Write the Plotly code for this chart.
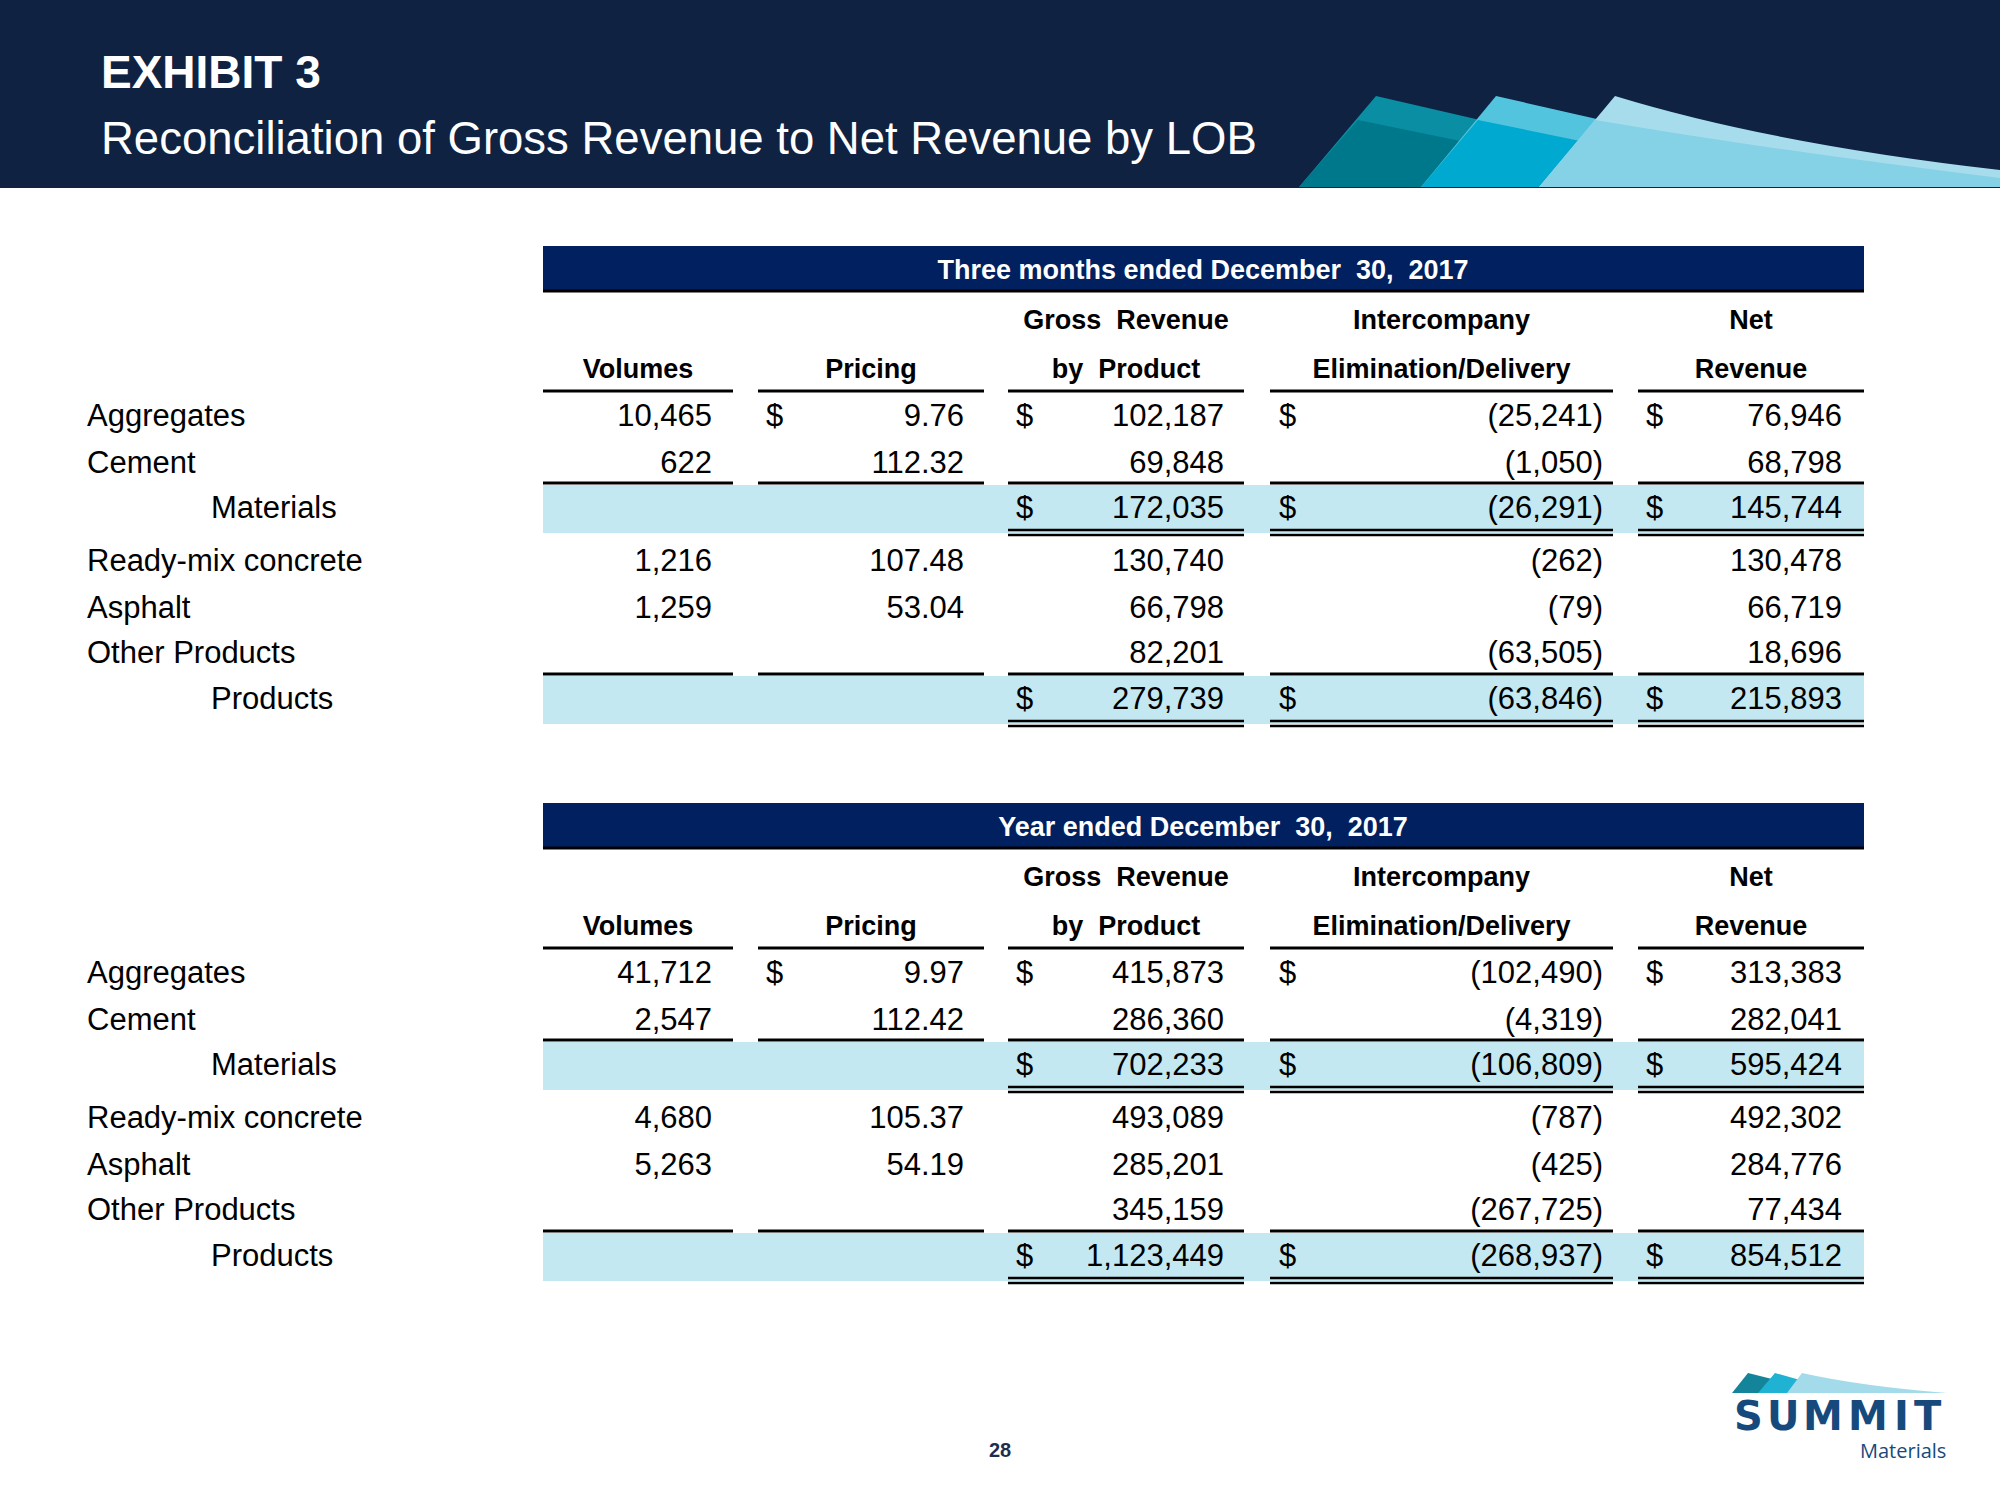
import plotly.graph_objects as go

# ---------------- data ----------------
row_labels = ["Aggregates", "Cement", "Materials", "Ready-mix concrete",
              "Asphalt", "Other Products", "Products"]
subtotal_rows = [False, False, True, False, False, False, True]
dollar_rows = [True, False, True, False, False, False, True]
col_headers_top = ["", "", "Gross\u00a0 Revenue", "Intercompany", "Net"]
col_headers_bot = ["Volumes", "Pricing", "by\u00a0 Product", "Elimination/Delivery", "Revenue"]
period_titles = ["Three months ended December\u00a0 30,\u00a0 2017",
                 "Year ended December\u00a0 30,\u00a0 2017"]

q_volumes = [10465, 622, None, 1216, 1259, None, None]
q_pricing = [9.76, 112.32, None, 107.48, 53.04, None, None]
q_gross = [102187, 69848, 172035, 130740, 66798, 82201, 279739]
q_interco = [-25241, -1050, -26291, -262, -79, -63505, -63846]
q_net = [76946, 68798, 145744, 130478, 66719, 18696, 215893]

y_volumes = [41712, 2547, None, 4680, 5263, None, None]
y_pricing = [9.97, 112.42, None, 105.37, 54.19, None, None]
y_gross = [415873, 286360, 702233, 493089, 285201, 345159, 1123449]
y_interco = [-102490, -4319, -106809, -787, -425, -267725, -268937]
y_net = [313383, 282041, 595424, 492302, 284776, 77434, 854512]

title_main = "EXHIBIT 3"
title_sub = "Reconciliation of Gross Revenue to Net Revenue by LOB"
page_number = "28"
logo_word = "SUMMIT"
logo_sub = "Materials"

tables = [
    [q_volumes, q_pricing, q_gross, q_interco, q_net],
    [y_volumes, y_pricing, y_gross, y_interco, y_net],
]

# ---------------- styling / geometry ----------------
BODY = "Liberation Sans, Arial, sans-serif"
ARIAL = "Liberation Sans, Arial, sans-serif"
NAVY_BAND = "#0f2242"
BAR_BLUE = "#002060"
LIGHT_BAND = "#c4e8f1"

seg = [(543, 733), (758, 984), (1008, 1244), (1270, 1613), (1638, 1864)]
val_right = [712, 964, 1224, 1603, 1842]
dollar_left = [None, 766, 1016, 1279, 1646]
row_base = [415, 462, 507, 560, 607, 652, 698]
table_offsets = [0, 557]
TXT_DY = 3  # small vertical nudge of text relative to the row centre


def fmt_num(v):
    if v is None:
        return ""
    if v < 0:
        return f"({abs(v):,})"
    return f"{v:,}"


def fmt_price(v):
    return "" if v is None else f"{v:.2f}"


fig = go.Figure()
shapes = []
annotations = []

# header band
shapes.append(dict(type="rect", x0=0, x1=2000, y0=0, y1=188, fillcolor=NAVY_BAND,
                   line=dict(width=0), layer="below"))
# decoration
deco = [
    ("#0a8ea3", "M1299,187 L1376,96 L1480,120 L1480,187 Z"),
    ("#00788b", "M1299,187 L1358,120 L1470,143 L1470,187 Z"),
    ("#52c4de", "M1421,187 L1496,96 L1610,122 L1610,187 Z"),
    ("#00a9cf", "M1421,187 L1478,120 L1590,143 L1590,187 Z"),
    ("#a7dced", "M1539,187 L1615,96 Q1772,144 2000,170 L2000,187 Z"),
    ("#85d1e5", "M1539,187 L1595,120 Q1778,151 2000,178 L2000,187 Z"),
]
for col, p in deco:
    shapes.append(dict(type="path", path=p, fillcolor=col, line=dict(width=0), layer="below"))

annotations.append(dict(x=99, y=72, text=f"<b>{title_main}</b>", showarrow=False,
                        xanchor="left", yanchor="middle",
                        font=dict(family=ARIAL, size=46, color="white")))
annotations.append(dict(x=99, y=138, text=title_sub, showarrow=False,
                        xanchor="left", yanchor="middle",
                        font=dict(family=ARIAL, size=45.5, color="white")))

for t, cols in enumerate(tables):
    off = table_offsets[t]
    rows_y = [r + off for r in row_base]
    text_y = [y + TXT_DY for y in rows_y]
    # title bar
    shapes.append(dict(type="rect", x0=543, x1=1864, y0=246 + off, y1=292 + off,
                       fillcolor=BAR_BLUE, line=dict(width=0), layer="below"))
    shapes.append(dict(type="line", x0=543, x1=1864, y0=291 + off, y1=291 + off,
                       line=dict(color="black", width=3)))
    # subtotal bands and lines
    for i, sub in enumerate(subtotal_rows):
        if not sub:
            continue
        y = rows_y[i]
        shapes.append(dict(type="rect", x0=543, x1=1864, y0=y - 22, y1=y + 26,
                           fillcolor=LIGHT_BAND, line=dict(width=0), layer="below"))
        for c, (a, b) in enumerate(seg):
            shapes.append(dict(type="line", x0=a, x1=b, y0=y - 24, y1=y - 24,
                               line=dict(color="black", width=3)))
            if c >= 2:
                for dy in (23, 28):
                    shapes.append(dict(type="line", x0=a, x1=b, y0=y + dy, y1=y + dy,
                                       line=dict(color="black", width=2.5)))
    # header underline
    for a, b in seg:
        shapes.append(dict(type="line", x0=a, x1=b, y0=391 + off, y1=391 + off,
                           line=dict(color="black", width=3)))

    # title text
    fig.add_trace(go.Scatter(x=[1203], y=[272 + off], mode="text",
                             text=[f"<b>{period_titles[t]}</b>"], textposition="middle center",
                             textfont=dict(family=BODY, size=27, color="white"),
                             hoverinfo="skip", showlegend=False))
    # column headers
    centers = [(a + b) / 2 for a, b in seg]
    fig.add_trace(go.Scatter(x=centers + centers,
                             y=[322 + off] * 5 + [371 + off] * 5, mode="text",
                             text=[f"<b>{h}</b>" for h in col_headers_top + col_headers_bot],
                             textposition="middle center",
                             textfont=dict(family=BODY, size=27, color="black"),
                             hoverinfo="skip", showlegend=False))
    # row labels
    fig.add_trace(go.Scatter(x=[211 if s else 87 for s in subtotal_rows], y=text_y,
                             mode="text", text=row_labels, textposition="middle right",
                             textfont=dict(family=BODY, size=31, color="black"),
                             hoverinfo="skip", showlegend=False))
    # values
    for c, vals in enumerate(cols):
        txt = [fmt_price(v) for v in vals] if c == 1 else [fmt_num(v) for v in vals]
        fig.add_trace(go.Scatter(x=[val_right[c]] * len(vals), y=text_y, mode="text",
                                 text=txt, textposition="middle left",
                                 textfont=dict(family=BODY, size=31, color="black"),
                                 hoverinfo="skip", showlegend=False))
        if dollar_left[c] is not None:
            dy = [text_y[i] for i, v in enumerate(vals) if v is not None and dollar_rows[i]]
            fig.add_trace(go.Scatter(x=[dollar_left[c]] * len(dy), y=dy, mode="text",
                                     text=["$"] * len(dy), textposition="middle right",
                                     textfont=dict(family=BODY, size=31, color="black"),
                                     hoverinfo="skip", showlegend=False))

# page number
annotations.append(dict(x=1000, y=1450, text=f"<b>{page_number}</b>", showarrow=False,
                        xanchor="center", yanchor="middle",
                        font=dict(family=ARIAL, size=20, color="#1f2d4d")))

# logo
logo_paths = [
    ("#13849a", "M1732,1393 L1748,1373 L1772,1379 L1762,1393 Z"),
    ("#1fb2d3", "M1758,1393 L1775,1373 L1800,1380 L1790,1393 Z"),
    ("#a3dbea", "M1787,1393 L1802,1373 Q1860,1386 1947,1393 Z"),
]
for col, p in logo_paths:
    shapes.append(dict(type="path", path=p, fillcolor=col, line=dict(width=0)))
letter_x = [1748, 1783, 1823, 1868, 1901, 1928]
for ch, lx in zip(logo_word, letter_x):
    annotations.append(dict(x=lx, y=1416, text=f"<b>{ch}</b>", showarrow=False,
                            xanchor="center", yanchor="middle",
                            font=dict(family="DejaVu Sans", size=40, color="#174a7c")))
annotations.append(dict(x=1948, y=1450, text=logo_sub, showarrow=False,
                        xanchor="right", yanchor="middle",
                        font=dict(family="Open Sans, sans-serif", size=20, color="#174a7c")))

fig.update_layout(
    width=2000, height=1500,
    margin=dict(l=0, r=0, t=0, b=0),
    paper_bgcolor="white", plot_bgcolor="white",
    xaxis=dict(range=[0, 2000], visible=False, fixedrange=True),
    yaxis=dict(range=[1500, 0], visible=False, fixedrange=True),
    shapes=shapes, annotations=annotations,
    showlegend=False,
)

fig.write_html("out.html", config={"displayModeBar": False},
               post_script="document.body.style.margin='0';")
